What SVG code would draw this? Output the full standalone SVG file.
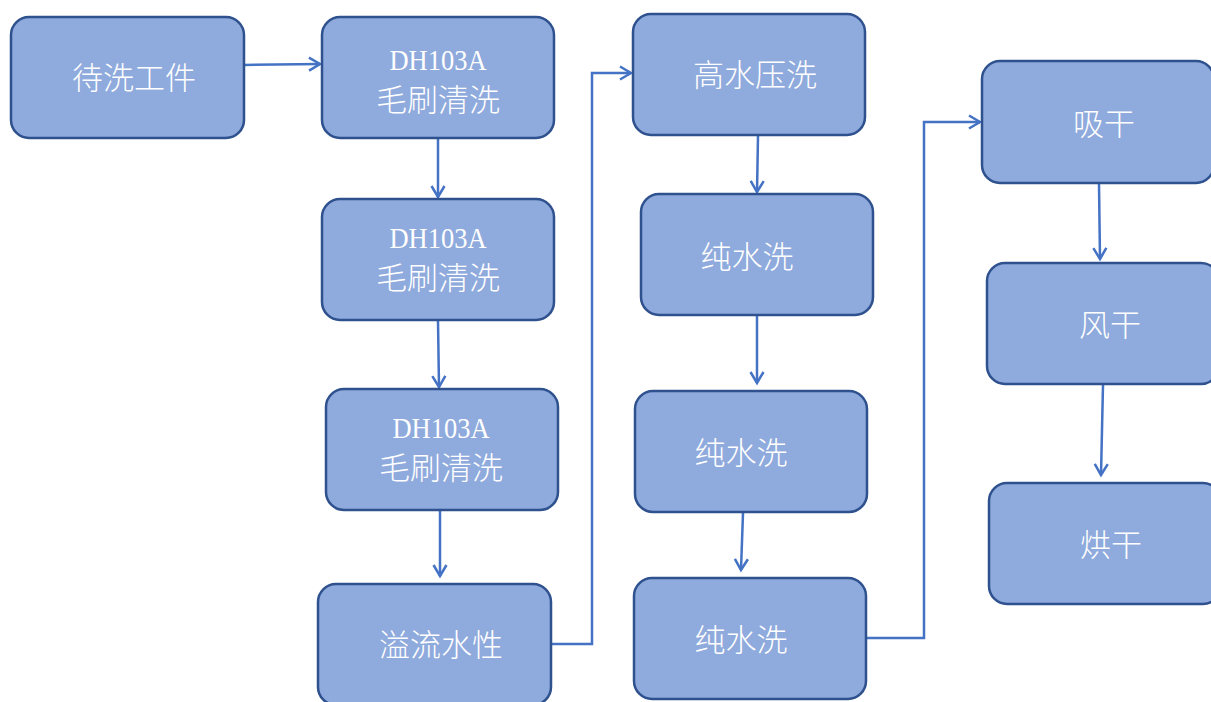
<svg xmlns="http://www.w3.org/2000/svg" width="1211" height="702" viewBox="0 0 1211 702">
<style>
.box{fill:#8faadc;stroke:#2f528f;stroke-width:2.5}
.t{fill:#ffffff;font-family:"Noto Sans CJK SC","Noto Sans",sans-serif;font-size:31px;font-weight:300;text-anchor:middle}
.l{fill:#ffffff;font-family:"Liberation Serif","DejaVu Serif",serif;font-size:30px;text-anchor:middle}
.c{fill:none;stroke:#4472c4;stroke-width:2.5}
</style>
<defs>
<marker id="a" markerWidth="16" markerHeight="16" refX="12" refY="8" orient="auto" markerUnits="userSpaceOnUse">
<path d="M1,1.5 L12,8 L1,14.5" fill="none" stroke="#4472c4" stroke-width="2.5"/>
</marker>
</defs>
<rect width="1211" height="702" fill="#ffffff"/>
<g id="connectors">
<path class="c" d="M244,65 L320,64" marker-end="url(#a)"/>
<path class="c" d="M438,139 L438,197" marker-end="url(#a)"/>
<path class="c" d="M438,321 L439,387" marker-end="url(#a)"/>
<path class="c" d="M440,511 L440,576" marker-end="url(#a)"/>
<path class="c" d="M551,644 L592,644 L592,73 L631,73" marker-end="url(#a)"/>
<path class="c" d="M758,136 L757,192" marker-end="url(#a)"/>
<path class="c" d="M757,316 L757,383" marker-end="url(#a)"/>
<path class="c" d="M743,513 L741,570" marker-end="url(#a)"/>
<path class="c" d="M866,638 L924,638 L924,122 L980,122" marker-end="url(#a)"/>
<path class="c" d="M1099,184 L1100,259" marker-end="url(#a)"/>
<path class="c" d="M1103,385 L1101,475" marker-end="url(#a)"/>
</g>
<g id="n1"><rect class="box" x="11" y="17" width="233" height="121" rx="18"/><text class="t" x="134" y="89">待洗工件</text></g>
<g id="n2"><rect class="box" x="322" y="17" width="232" height="121" rx="18"/><text class="l" x="438" y="70" textLength="97" lengthAdjust="spacingAndGlyphs">DH103A</text><text class="t" x="438" y="111">毛刷清洗</text></g>
<g id="n3"><rect class="box" x="322" y="199" width="232" height="121" rx="18"/><text class="l" x="438" y="248" textLength="97" lengthAdjust="spacingAndGlyphs">DH103A</text><text class="t" x="438" y="289">毛刷清洗</text></g>
<g id="n4"><rect class="box" x="326" y="389" width="232" height="121" rx="18"/><text class="l" x="441" y="438" textLength="97" lengthAdjust="spacingAndGlyphs">DH103A</text><text class="t" x="441" y="479">毛刷清洗</text></g>
<g id="n5"><rect class="box" x="318" y="584" width="233" height="121" rx="18"/><text class="t" x="441" y="656">溢流水性</text></g>
<g id="n6"><rect class="box" x="633" y="14" width="232" height="121" rx="18"/><text class="t" x="755" y="86">高水压洗</text></g>
<g id="n7"><rect class="box" x="641" y="194" width="232" height="121" rx="18"/><text class="t" x="747" y="268">纯水洗</text></g>
<g id="n8"><rect class="box" x="635" y="391" width="232" height="121" rx="18"/><text class="t" x="741" y="464">纯水洗</text></g>
<g id="n9"><rect class="box" x="634" y="578" width="232" height="121" rx="18"/><text class="t" x="741" y="651">纯水洗</text></g>
<g id="n10"><rect class="box" x="982" y="61" width="232" height="122" rx="18"/><text class="t" x="1104" y="135">吸干</text></g>
<g id="n11"><rect class="box" x="987" y="263" width="232" height="121" rx="18"/><text class="t" x="1110" y="336">风干</text></g>
<g id="n12"><rect class="box" x="989" y="483" width="232" height="121" rx="18"/><text class="t" x="1111" y="556">烘干</text></g>
</svg>
